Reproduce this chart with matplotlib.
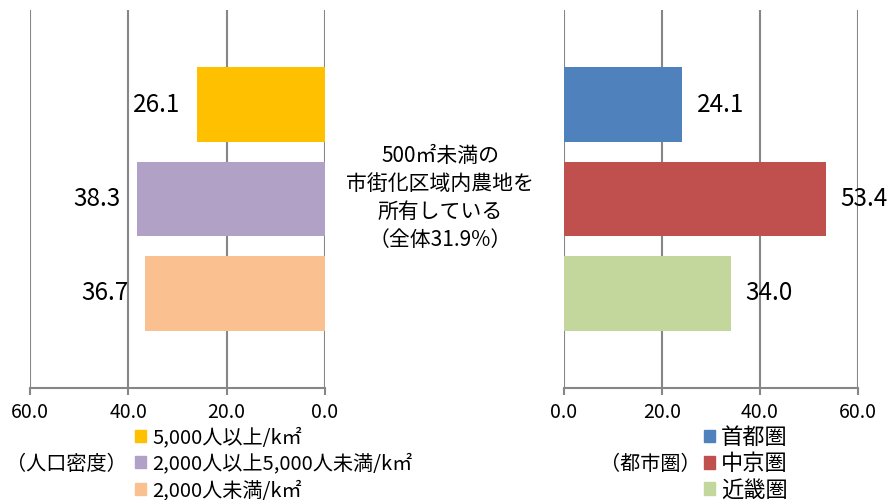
import matplotlib
matplotlib.use('Agg')
import matplotlib.pyplot as plt
from matplotlib.patches import Patch

plt.rcParams['font.family'] = ['Noto Sans CJK JP', 'DejaVu Sans']

# data
density_labels = ['5,000人以上/k㎡', '2,000人以上5,000人未満/k㎡', '2,000人未満/k㎡']
density_values = [26.1, 38.3, 36.7]
density_colors = ['#FFC000', '#B2A1C7', '#FAC090']

metro_labels = ['首都圏', '中京圏', '近畿圏']
metro_values = [24.1, 53.4, 34.0]
metro_colors = ['#4F81BD', '#C0504D', '#C3D69B']

ticks = [0, 20, 40, 60]
center_text = '500㎡未満の\n市街化区域内農地を\n所有している\n（全体31.9%）'

W, H = 892, 500
fig = plt.figure(figsize=(W / 100, H / 100), dpi=100)

grid_c = '#868686'

def setup(ax, reverse):
    ax.set_xlim(60, 0) if reverse else ax.set_xlim(0, 60)
    ax.set_ylim(3, -1)
    ax.set_xticks(ticks)
    ax.set_xticklabels(['%.1f' % t for t in ticks], fontsize=14)
    ax.set_yticks([])
    for s in ['top', 'left', 'right']:
        ax.spines[s].set_visible(False)
    ax.spines['bottom'].set_color(grid_c)
    ax.spines['bottom'].set_linewidth(1.5)
    ax.tick_params(axis='x', direction='out', length=5, width=1.5, color=grid_c, pad=5)
    ax.xaxis.grid(True, color=grid_c, linewidth=1.5)
    ax.set_axisbelow(True)

# left panel (population density)
axl = fig.add_axes([30 / W, 1 - 388 / H, 295 / W, 378 / H])
setup(axl, True)
ypos = range(len(density_values))
axl.barh(ypos, density_values, height=0.79, color=density_colors, zorder=3)
for y, v in zip(ypos, density_values):
    axl.text(v + 3.3, y, '%.1f' % v, ha='right', va='center', fontsize=17.5, zorder=4)

# right panel (metro area)
axr = fig.add_axes([564 / W, 1 - 388 / H, 294 / W, 378 / H])
setup(axr, False)
axr.barh(ypos, metro_values, height=0.79, color=metro_colors, zorder=3)
for y, v in zip(ypos, metro_values):
    axr.text(v + 3.0, y, '%.1f' % v, ha='left', va='center', fontsize=17.5, zorder=4)

fig.text(440 / W, 1 - 198 / H, center_text, ha='center', va='center',
         fontsize=15, linespacing=1.37)

# legends
hl = [Patch(color=c) for c in density_colors]
fig.legend(hl, density_labels, loc='upper left', bbox_to_anchor=(135 / W, 1 - 427 / H),
           frameon=False, fontsize=14.5, handlelength=0.55, handleheight=0.55,
           handletextpad=0.3, labelspacing=0.27, borderpad=0, borderaxespad=0)
fig.text(6 / W, 1 - 465 / H, '（人口密度）', ha='left', va='center', fontsize=14.5)

hr = [Patch(color=c) for c in metro_colors]
fig.legend(hr, metro_labels, loc='upper left', bbox_to_anchor=(704 / W, 1 - 426 / H),
           frameon=False, fontsize=16, handlelength=0.5, handleheight=0.5,
           handletextpad=0.25, labelspacing=0.15, borderpad=0, borderaxespad=0)
fig.text(600 / W, 1 - 465 / H, '（都市圏）', ha='left', va='center', fontsize=14.5)

fig.savefig('out.png', dpi=100)
